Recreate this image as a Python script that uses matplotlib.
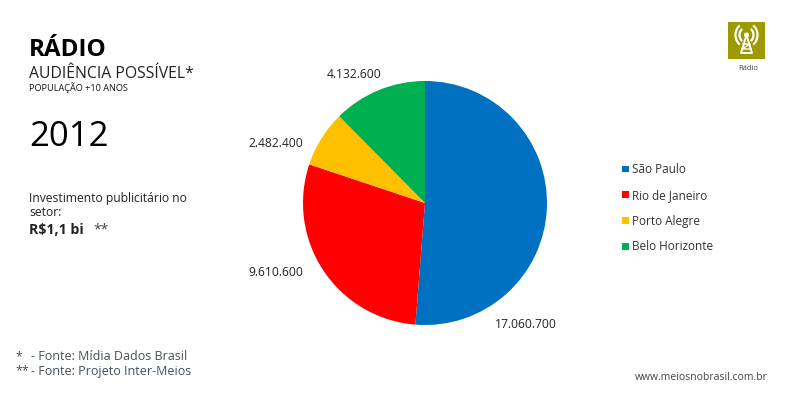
import matplotlib
matplotlib.use('Agg')
import matplotlib.pyplot as plt
from matplotlib.patches import Rectangle, Arc, Circle

plt.rcParams['font.family'] = ['Open Sans', 'DejaVu Sans']

cidades = ['São Paulo', 'Rio de Janeiro', 'Porto Alegre', 'Belo Horizonte']
valores = [17060700, 9610600, 2482400, 4132600]
rotulos = ['17.060.700', '9.610.600', '2.482.400', '4.132.600']
cores = ['#0070C0', '#FF0000', '#FFC000', '#00B050']

W, H = 786, 396
fig = plt.figure(figsize=(W / 100, H / 100), dpi=100, facecolor='white')

# pizza: centro em (425,203), raio 122
ax = fig.add_axes([303 / W, 1 - 325 / H, 244 / W, 244 / H])
ax.pie(valores, colors=cores, startangle=90, counterclock=False, radius=1)
ax.set_xlim(-1, 1)
ax.set_ylim(-1, 1)


def texto(x, y, s, **kw):
    fig.text(x / W, 1 - y / H, s, va='center', **kw)


texto(29, 50, 'RÁDIO', fontsize=17.5, fontweight='bold', color='black')
texto(29, 74, 'AUDIÊNCIA POSSÍVEL*', fontsize=11.3, color='#222222')
texto(29, 88, 'POPULAÇÃO +10 ANOS', fontsize=6.6, color='#111111')
texto(29, 137, '2012', fontsize=25, color='black')
texto(29, 199, 'Investimento publicitário no', fontsize=8.7, color='#222222')
texto(29, 212, 'setor:', fontsize=8.7, color='#222222')
texto(29, 230, 'R$1,1 bi', fontsize=10.2, fontweight='bold', color='#222222')
texto(93, 230, '**', fontsize=10, color='#444444')
texto(15, 357, '*', fontsize=9, color='#44505A')
texto(31, 357, '- Fonte: Mídia Dados Brasil', fontsize=9, color='#44505A')
texto(15, 371, '**', fontsize=9, color='#44505A')
texto(31, 371, '- Fonte: Projeto Inter-Meios', fontsize=9, color='#44505A')
texto(635, 377, 'www.meiosnobrasil.com.br', fontsize=7.5, color='#444444')

# rotulos dos valores
pos_rotulos = [(495, 324), (248, 273), (248, 143), (327, 74)]
for (x, y), r in zip(pos_rotulos, rotulos):
    texto(x, y, r, fontsize=8.7, color='#222222')

# legenda
for i, (c, cor) in enumerate(zip(cidades, cores)):
    y = 169 + i * 25.8
    fig.add_artist(Rectangle((622 / W, 1 - (y + 3.5) / H), 7 / W, 7 / H,
                             transform=fig.transFigure, color=cor, lw=0))
    texto(632, y + 0.5, c, fontsize=8.5, color='#333333')

# icone do radio
icone = fig.add_axes([728 / W, 1 - 59 / H, 37 / W, 37 / H])
icone.set_xlim(0, 37)
icone.set_ylim(37, 0)
icone.axis('off')
icone.add_patch(Rectangle((0, 0), 37, 37, color='#9C9A00', lw=0))
icone.add_patch(Circle((18.5, 13), 2.5, color='white', lw=0))
icone.plot([18.5, 13, 24, 18.5], [13, 31, 31, 13], color='white', lw=1.4)
icone.plot([15, 22, 14, 23], [22, 22, 27, 27], color='white', lw=1)
for r in (14, 22):
    icone.add_patch(Arc((18.5, 13), r, r * 1.1, theta1=125, theta2=235, color='white', lw=1.6))
    icone.add_patch(Arc((18.5, 13), r, r * 1.1, theta1=-55, theta2=55, color='white', lw=1.6))
texto(738, 68, 'Rádio', fontsize=5.5, color='#444444')

fig.savefig('out.png', dpi=100)
